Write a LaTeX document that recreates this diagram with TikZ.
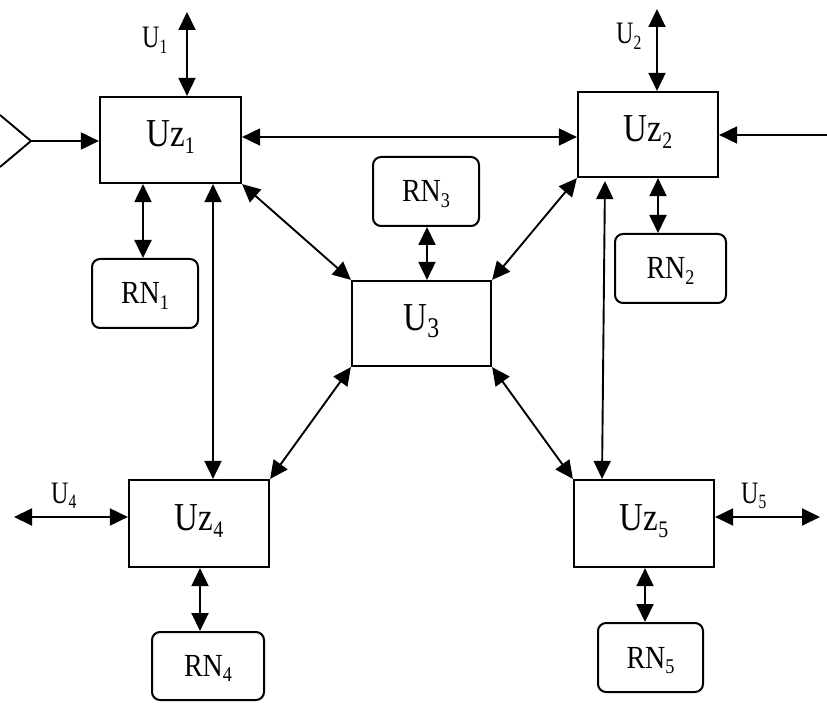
\documentclass[tikz,border=0pt]{standalone}
\usepackage{fontspec}
\setmainfont{Liberation Serif}
\usetikzlibrary{arrows.meta}
\newcommand{\sbs}[2][0.6]{\raisebox{-0.17em}{\scalebox{#1}{#2}}}
\newcommand{\tall}[2]{\scalebox{1}[#1]{#2}}
\begin{document}
\begin{tikzpicture}[x=1pt,y=-1pt,
 blk/.style={draw,line width=2.2pt,inner sep=0pt,text height=20pt,text depth=6pt,font=\fontsize{33}{33}\selectfont},
 rn/.style={draw,line width=2pt,rounded corners=8pt,inner sep=0pt,text height=25pt,text depth=4pt,font=\fontsize{28}{28}\selectfont},
 lbl/.style={inner sep=0pt,anchor=base west,font=\fontsize{24}{24}\selectfont},
 con/.style={line width=1.9pt,{Triangle[length=18pt,width=17pt]}-{Triangle[length=18pt,width=17pt]}},
 one/.style={line width=1.9pt,-{Triangle[length=18pt,width=17pt]}}]
\useasboundingbox (0,0) rectangle (827,708);

% main blocks
\node[blk,minimum width=141pt,minimum height=86pt] (Uz1) at (170.5,140) {\tall{1.2}{Uz\sbs{1}}};
\node[blk,minimum width=140pt,minimum height=85pt] (Uz2) at (648,134.5) {\tall{1.2}{Uz\sbs{2}}};
\node[blk,minimum width=139pt,minimum height=85pt] (U3) at (421.5,323.5) {\tall{1.2}{U\sbs[0.72]{3}}};
\node[blk,minimum width=140pt,minimum height=87pt] (Uz4) at (199,523.5) {\tall{1.2}{Uz\sbs{4}}};
\node[blk,minimum width=140pt,minimum height=87pt] (Uz5) at (644,523.5) {\tall{1.2}{Uz\sbs{5}}};

% RN blocks
\node[rn,minimum width=106pt,minimum height=69pt] (RN1) at (145,293.5) {\tall{1.15}{RN\sbs[0.65]{1}}};
\node[rn,minimum width=111pt,minimum height=69pt] (RN2) at (670.5,268.5) {\tall{1.15}{RN\sbs[0.65]{2}}};
\node[rn,minimum width=106pt,minimum height=69pt] (RN3) at (426,191.5) {\tall{1.15}{RN\sbs[0.65]{3}}};
\node[rn,minimum width=112pt,minimum height=68pt] (RN4) at (208,666) {\tall{1.15}{RN\sbs[0.65]{4}}};
\node[rn,minimum width=105pt,minimum height=69pt] (RN5) at (650.5,657.5) {\tall{1.15}{RN\sbs[0.65]{5}}};

% labels
\node[lbl] (L1) at (142,48) {\tall{1.3}{U\sbs[0.65]{1}}};
\node[lbl] (L2) at (616,44) {\tall{1.3}{U\sbs[0.65]{2}}};
\node[lbl] (L4) at (51,503) {\tall{1.3}{U\sbs[0.65]{4}}};
\node[lbl] (L5) at (741,503) {\tall{1.3}{U\sbs[0.65]{5}}};

% free ends
\coordinate (in) at (31,141);
\coordinate (w1) at (0,115);
\coordinate (w2) at (0,167);
\coordinate (rin) at (827,135);
\coordinate (u1) at (187,12);
\coordinate (u2) at (657,9);
\coordinate (u4) at (14,517);
\coordinate (u5) at (820,517);

% input wedge
\draw[line width=1.9pt] (w1) -- (in) -- (w2);
\draw[one] (in) -- (Uz1.west |- in);
\draw[one] (rin) -- (Uz2.east |- rin);

% external U
\draw[con] (u1) -- (Uz1.north -| u1);
\draw[con] (u2) -- (Uz2.north -| u2);
\draw[con] (u4) -- (Uz4.west |- u4);
\draw[con] (Uz5.east |- u5) -- (u5);

% Uz1 <-> Uz2
\draw[con] (Uz1.east |- 0,137) -- (Uz2.west |- 0,137);

% RN connections
\draw[con] (Uz1.south -| 143,0) -- (RN1.north -| 143,0);
\draw[con] (Uz2.south -| 658,0) -- (RN2.north -| 658,0);
\draw[con] (RN3.south -| 427,0) -- (U3.north -| 427,0);
\draw[con] (Uz4.south -| 200,0) -- (RN4.north -| 200,0);
\draw[con] (Uz5.south -| 645,0) -- (RN5.north -| 645,0);

% verticals
\draw[con] (Uz1.south -| 213,0) -- (Uz4.north -| 213,0);
\draw[con,shorten <=3pt] (Uz2.south -| 605,0) -- (Uz5.north -| 602,0);

% diagonals
\draw[con] (Uz1.south east) -- (U3.north west);
\draw[con] (Uz2.south west) -- (U3.north east);
\draw[con] (U3.south west) -- (Uz4.north east);
\draw[con] (U3.south east) -- (Uz5.north west);
\end{tikzpicture}
\end{document}
